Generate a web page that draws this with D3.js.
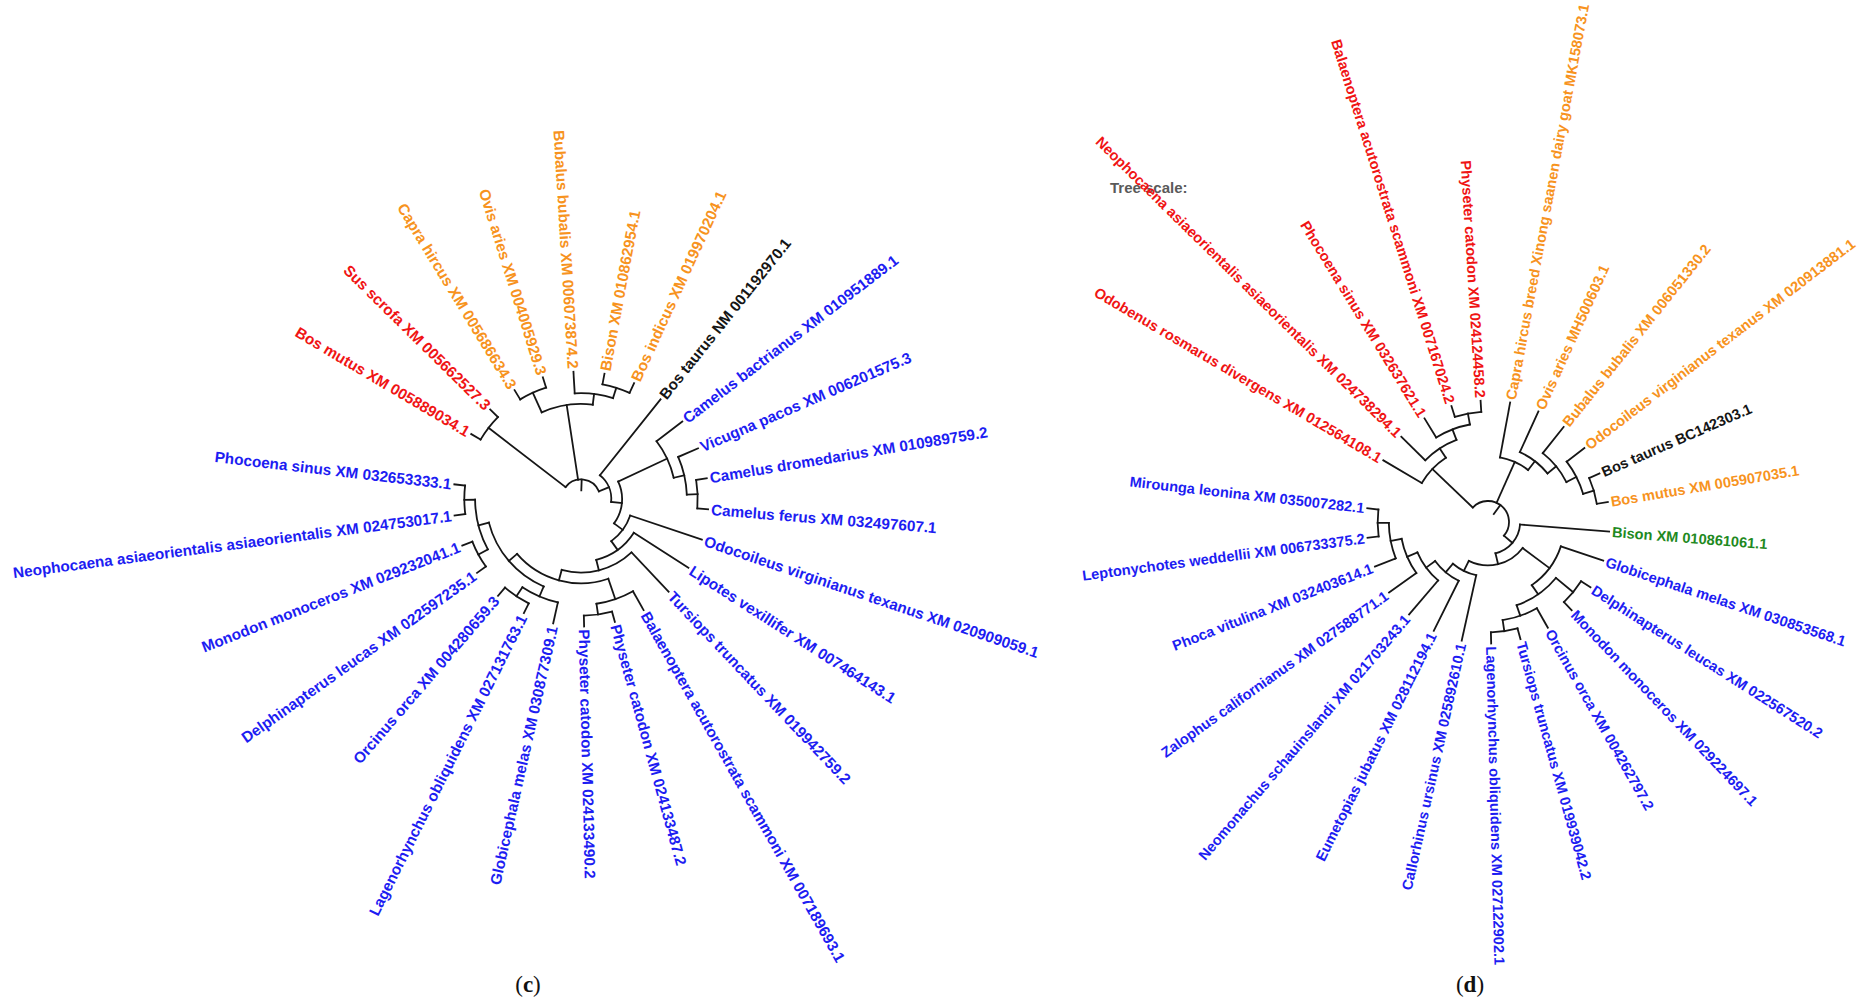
<!DOCTYPE html>
<html>
<head>
<meta charset="utf-8">
<script src="https://cdn.jsdelivr.net/npm/d3@7"></script>
<style>
  html, body { margin: 0; padding: 0; background: #fff; }
  svg { display: block; }
</style>
</head>
<body>
<svg id="fig" width="1863" height="1003"></svg>
<script>
// ---------- Panel (c): leaves in clockwise order, starting upper-left ----------
const leavesC = [
  "Bos mutus XM 005889034.1",
  "Sus scrofa XM 005662527.3",
  "Capra hircus XM 005686634.3",
  "Ovis aries XM 004005929.3",
  "Bubalus bubalis XM 006073874.2",
  "Bison XM 010862954.1",
  "Bos indicus XM 019970204.1",
  "Bos taurus NM 001192970.1",
  "Camelus bactrianus XM 010951889.1",
  "Vicugna pacos XM 006201575.3",
  "Camelus dromedarius XM 010989759.2",
  "Camelus ferus XM 032497607.1",
  "Odocoileus virginianus texanus XM 020909059.1",
  "Lipotes vexillifer XM 007464143.1",
  "Tursiops truncatus XM 019942759.2",
  "Balaenoptera acutorostrata scammoni XM 007189693.1",
  "Physeter catodon XM 024133487.2",
  "Physeter catodon XM 024133490.2",
  "Globicephala melas XM 030877309.1",
  "Lagenorhynchus obliquidens XM 027131763.1",
  "Orcinus orca XM 004280659.3",
  "Delphinapterus leucas XM 022597235.1",
  "Monodon monoceros XM 029232041.1",
  "Neophocaena asiaeorientalis asiaeorientalis XM 024753017.1",
  "Phocoena sinus XM 032653333.1"
];
const groupsC = [
  "red", "red",
  "orange", "orange", "orange", "orange", "orange",
  "black",
  "blue", "blue", "blue", "blue", "blue", "blue", "blue", "blue", "blue",
  "blue", "blue", "blue", "blue", "blue", "blue", "blue", "blue"
];
// topology, leaves referenced by index into leavesC
const topologyC =
  "((0,1),((2,3),(4,(5,6))),(7,((8,(9,(10,11))),(12,(13,(14,((15,(16,17)),((18,(19,20)),((21,22),(23,24))))))))))";

// ---------- Panel (d) ----------
const leavesD = [
  "Odobenus rosmarus divergens XM 012564108.1",
  "Neophocaena asiaeorientalis asiaeorientalis XM 024738294.1",
  "Phocoena sinus XM 032637621.1",
  "Balaenoptera acutorostrata scammoni XM 007167024.2",
  "Physeter catodon XM 024124458.2",
  "Capra hircus breed Xinong saanen dairy goat MK158073.1",
  "Ovis aries MH500603.1",
  "Bubalus bubalis XM 006051330.2",
  "Odocoileus virginianus texanus XM 020913881.1",
  "Bos taurus BC142303.1",
  "Bos mutus XM 005907035.1",
  "Bison XM 010861061.1",
  "Globicephala melas XM 030853568.1",
  "Delphinapterus leucas XM 022567520.2",
  "Monodon monoceros XM 029224697.1",
  "Orcinus orca XM 004262797.2",
  "Tursiops truncatus XM 019939042.2",
  "Lagenorhynchus obliquidens XM 027122902.1",
  "Callorhinus ursinus XM 025892610.1",
  "Eumetopias jubatus XM 028112194.1",
  "Neomonachus schauinslandi XM 021703243.1",
  "Zalophus californianus XM 027588771.1",
  "Phoca vitulina XM 032403614.1",
  "Leptonychotes weddellii XM 006733375.2",
  "Mirounga leonina XM 035007282.1"
];
const groupsD = [
  "red", "red", "red", "red", "red",
  "orange", "orange", "orange", "orange",
  "black", "orange", "green",
  "blue", "blue", "blue", "blue", "blue", "blue",
  "blue", "blue", "blue", "blue", "blue", "blue", "blue"
];
const topologyD =
  "((0,(1,(2,(3,4)))),(5,(6,(7,(8,(9,10))))),(11,((12,((13,14),(15,(16,17)))),(18,(19,(20,(21,(22,(23,24)))))))))";

const groupColors = {
  blue: "#1d1df2",
  red: "#f01414",
  orange: "#f7931e",
  black: "#151515",
  green: "#1f8a1f"
};

const panelTags = ["c", "d"];

// ---------- helpers ----------
function parseTopology(str) {
  let i = 0;
  function node() {
    if (str[i] === "(") {
      i++;
      const children = [node()];
      while (str[i] === ",") { i++; children.push(node()); }
      i++; // closing bracket
      return { children };
    }
    const j = i;
    while (i < str.length && /[0-9]/.test(str[i])) i++;
    return { leaf: +str.slice(j, i) };
  }
  return node();
}

const svg = d3.select("#fig");

function drawTree(leaves, groups, topology, o) {
  const root = d3.hierarchy(parseTopology(topology));
  const span = leaves.length * o.step;
  d3.cluster().size([span, 1]).separation(() => 1)(root);

  // angular position (degrees, screen orientation) and radial position
  const angle = d3.scaleLinear().domain([0, span]).range([o.a0 - o.step / 2, o.a0 - o.step / 2 + span]);
  const radius = d3.scaleLinear().domain([0, 1]).range([o.rootR, o.tipR]);
  const rad = d => d * Math.PI / 180;
  const pt = (r, a) => [r * Math.cos(rad(a)), r * Math.sin(rad(a))];

  const g = svg.append("g").attr("transform", `translate(${o.cx},${o.cy})`);
  const lines = g.append("g")
    .attr("fill", "none")
    .attr("stroke", "#161616")
    .attr("stroke-width", 1.8)
    .attr("stroke-linecap", "square");

  // radial branches
  root.descendants().forEach(n => {
    const a = angle(n.x);
    const rIn = n.parent ? radius(n.parent.y) : radius(-1 / root.height);
    const p0 = pt(rIn, a), p1 = pt(radius(n.y), a);
    lines.append("line")
      .attr("x1", p0[0]).attr("y1", p0[1])
      .attr("x2", p1[0]).attr("y2", p1[1]);
  });

  // arcs joining siblings at each internal node
  root.descendants().filter(n => n.children).forEach(n => {
    const xs = n.children.map(c => c.x);
    const a1 = rad(angle(d3.min(xs))), a2 = rad(angle(d3.max(xs)));
    const r = radius(n.y);
    const p = d3.path();
    p.moveTo(r * Math.cos(a1), r * Math.sin(a1));
    p.arc(0, 0, r, a1, a2, false);
    lines.append("path").attr("d", p.toString());
  });

  // leaf labels
  const labelR = o.tipR + 3;
  g.append("g")
    .attr("font-family", "'Liberation Sans', Arial, sans-serif")
    .attr("font-size", o.fontSize)
    .attr("font-weight", "bold")
    .selectAll("text")
    .data(root.leaves())
    .join("text")
    .attr("transform", d => {
      const a = angle(d.x);
      const norm = ((a % 360) + 360) % 360;
      return (norm > 90 && norm < 270)
        ? `rotate(${a}) translate(${labelR},0) rotate(180)`
        : `rotate(${a}) translate(${labelR},0)`;
    })
    .attr("text-anchor", d => {
      const norm = ((angle(d.x) % 360) + 360) % 360;
      return (norm > 90 && norm < 270) ? "end" : "start";
    })
    .attr("dy", "0.36em")
    .attr("fill", d => groupColors[groups[d.data.leaf]])
    .text(d => leaves[d.data.leaf]);
}

// scale caption drawn first so the labels sit above it
svg.append("text")
  .attr("x", 1110).attr("y", 193)
  .attr("font-family", "'Liberation Sans', Arial, sans-serif")
  .attr("font-size", 15)
  .attr("font-weight", "bold")
  .attr("fill", "#5a5a5a")
  .text("Tree scale:");

drawTree(leavesC, groupsC, topologyC,
  { cx: 581, cy: 499, a0: 210.6, step: 14, rootR: 19.5, tipR: 127.5, fontSize: 15.3 });
drawTree(leavesD, groupsD, topologyD,
  { cx: 1488, cy: 522, a0: 210.5, step: 14, rootR: 21, tipR: 121.5, fontSize: 14.6 });

// panel tags
const tagX = [528, 1470];
panelTags.forEach((t, i) => {
  const txt = svg.append("text")
    .attr("x", tagX[i]).attr("y", 992)
    .attr("text-anchor", "middle")
    .attr("font-family", "'Liberation Serif', 'Times New Roman', serif")
    .attr("font-size", 23)
    .attr("fill", "#111");
  txt.append("tspan").text("(");
  txt.append("tspan").attr("font-weight", "bold").text(t);
  txt.append("tspan").text(")");
});
</script>
</body>
</html>
